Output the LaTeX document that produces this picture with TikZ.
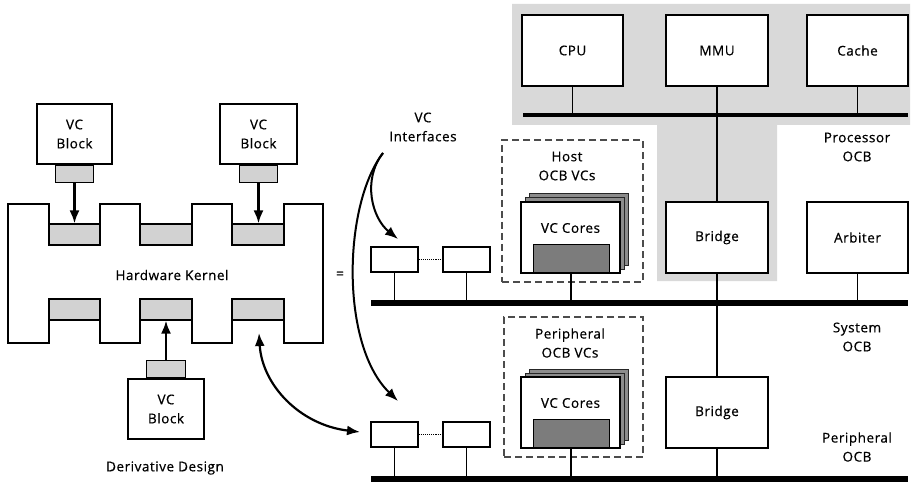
\documentclass[tikz,border=0pt]{standalone}
\usepackage{fontspec}
\setmainfont{Open Sans}[LetterSpace=4, RawFeature={embolden=0.6}]
\usetikzlibrary{arrows.meta}
\definecolor{procgray}{HTML}{D9D9D9}
\definecolor{slotgray}{HTML}{D2D2D2}
\definecolor{coregray}{HTML}{7C7C7C}
\begin{document}
\begin{tikzpicture}[x=1pt,y=-1pt,
  txt/.style={font=\fontsize{13.5}{19}\selectfont, align=center, inner sep=0pt},
  box/.style={draw, fill=white, line width=1.2pt, inner sep=0pt, txt},
  slot/.style={draw, fill=slotgray, line width=1.2pt, inner sep=0pt},
  core/.style={draw, fill=coregray, line width=1pt, inner sep=0pt},
  back/.style={draw=black!85, fill=black!45, line width=1pt, inner sep=0pt},
  dashbox/.style={draw=black!70, dashed, dash pattern=on 7pt off 4pt, line width=1.2pt, inner sep=0pt},
  bus/.style={line width=5.5pt},
  pbus/.style={line width=3.5pt},
  stem/.style={line width=1.1pt},
  arr/.style={line width=2.2pt, -{Latex[length=13pt,width=10pt]}},
  darr/.style={line width=2.2pt, {Latex[length=13pt,width=10pt]}-{Latex[length=13pt,width=10pt]}},
  carr/.style={line width=2pt, -{Latex[length=13pt,width=10pt]}}]
\useasboundingbox (0,0) rectangle (914,484);

% processor OCB shaded region
\fill[procgray] (512,4) -- (910,4) -- (910,125) -- (777,125) -- (777,281) -- (657,281) -- (657,125) -- (512,125) -- cycle;

% ---------- left: derivative design ----------
\draw[line width=1.2pt] (8,204) -- (49,204) -- (49,245) -- (100,245) -- (100,204) -- (140,204) -- (140,245) -- (192,245) -- (192,204) -- (232,204) -- (232,245) -- (284,245) -- (284,204) -- (323,204) -- (323,343) -- (284,343) -- (284,299) -- (232,299) -- (232,343) -- (192,343) -- (192,299) -- (140,299) -- (140,343) -- (100,343) -- (100,299) -- (49,299) -- (49,343) -- (8,343) -- cycle;
\node[slot, minimum width=51, minimum height=21] (t1) at (74.5,234.5) {};
\node[slot, minimum width=52, minimum height=21] (t2) at (166,234.5) {};
\node[slot, minimum width=52, minimum height=21] (t3) at (258,234.5) {};
\node[slot, minimum width=51, minimum height=21] (b1) at (74.5,309.5) {};
\node[slot, minimum width=52, minimum height=21] (b2) at (166,309.5) {};
\node[slot, minimum width=52, minimum height=21] (b3) at (258,309.5) {};
\node[txt] (hk) at (172,275) {Hardware Kernel};

\node[box, minimum width=75, minimum height=60] (vb1) at (74.5,134) {VC\\Block};
\node[slot, minimum width=38, minimum height=17, anchor=north] (vt1) at (vb1.south) {};
\node[box, minimum width=77, minimum height=60] (vb2) at (258.5,134) {VC\\Block};
\node[slot, minimum width=38, minimum height=17, anchor=north] (vt2) at (vb2.south) {};
\node[box, minimum width=76, minimum height=60] (vb3) at (166,409) {VC\\Block};
\node[slot, minimum width=39, minimum height=17, anchor=south] (vt3) at (vb3.north) {};

\draw[arr] (vt1.south) -- (t1.north);
\draw[arr] (vt2.south) -- (t2.north -| vt2.south);
\draw[arr] (vt3.north) -- (b2.south);
\node[txt] (dd) at (165,468) {Derivative Design};
\node[txt] (eq) at (340,275) {=};

% ---------- right: OCB architecture ----------
\node[box, minimum width=101, minimum height=71] (cpu) at (572.5,50.5) {CPU};
\node[box, minimum width=102, minimum height=71] (mmu) at (717,50.5) {MMU};
\node[box, minimum width=101, minimum height=71] (cache) at (857.5,50.5) {Cache};
\node[box, minimum width=102, minimum height=71] (br1) at (717,237.5) {Bridge};
\node[box, minimum width=101, minimum height=71] (arb) at (857.5,237.5) {Arbiter};
\node[box, minimum width=102, minimum height=71] (br2) at (717,412.5) {Bridge};

\coordinate (pb0) at (523,115); \coordinate (pb1) at (908,115);
\coordinate (sb0) at (371,303); \coordinate (sb1) at (908,303);
\coordinate (qb0) at (371,479); \coordinate (qb1) at (908,479);

\draw[stem] (cpu.south) -- (cpu.south |- pb0);
\draw[stem] (cache.south) -- (cache.south |- pb0);
\draw[stem] (mmu.south) -- (br1.north);
\draw[stem] (br1.south) -- (br2.north);
\draw[stem] (br2.south) -- (br2.south |- qb0);
\draw[stem] (arb.south) -- (arb.south |- sb0);

\node[txt] (plab) at (857,147) {Processor\\OCB};
\node[txt] (slab) at (857,337) {System\\OCB};
\node[txt] (qlab) at (857,447) {Peripheral\\OCB};

% host OCB VCs
\node[dashbox, minimum width=141, minimum height=142] (host) at (572.5,211) {};
\node[txt] (hostlab) at (567,166) {Host\\OCB VCs};
\node[back, minimum width=99, minimum height=71] (hc3) at (578.5,229.5) {};
\node[back, minimum width=99, minimum height=71] (hc2) at (574.5,233.5) {};
\node[box, minimum width=99, minimum height=71] (hc) at (570.5,237.5) {};
\node[txt] (hctext) at (570.5,228) {VC Cores};
\node[core, minimum width=76, minimum height=28, anchor=south] (hcore) at (571,273) {};

% peripheral OCB VCs
\node[dashbox, minimum width=139, minimum height=140] (per) at (573.5,387) {};
\node[txt] (perlab) at (570,343) {Peripheral\\OCB VCs};
\node[back, minimum width=99, minimum height=71] (pc3) at (578.5,404.5) {};
\node[back, minimum width=99, minimum height=71] (pc2) at (574.5,408.5) {};
\node[box, minimum width=99, minimum height=71] (pc) at (570.5,412.5) {};
\node[txt] (pctext) at (570.5,403) {VC Cores};
\node[core, minimum width=76, minimum height=28, anchor=south] (pcore) at (571,448) {};

\draw[stem] (hcore.south) -- (hcore.south |- sb0);
\draw[stem] (pcore.south) -- (pcore.south |- qb0);

% interface boxes
\node[box, minimum width=47, minimum height=25] (if1) at (394.5,259.5) {};
\node[box, minimum width=47, minimum height=25] (if2) at (466.5,259.5) {};
\node[box, minimum width=47, minimum height=25] (if3) at (394.5,434.5) {};
\node[box, minimum width=47, minimum height=25] (if4) at (466.5,434.5) {};
\draw[stem, densely dotted] (if1.east) -- (if2.west);
\draw[stem, densely dotted] (if3.east) -- (if4.west);
\draw[stem] (if1.south) -- (if1.south |- sb0);
\draw[stem] (if2.south) -- (if2.south |- sb0);
\draw[stem] (if3.south) -- (if3.south |- qb0);
\draw[stem] (if4.south) -- (if4.south |- qb0);

% buses
\draw[pbus] (pb0) -- (pb1);
\draw[bus] (sb0) -- (sb1);
\draw[bus] (qb0) -- (qb1);

% VC interfaces arrows
\node[txt] (vci) at (423,127) {VC\\Interfaces};
\coordinate (vcis) at (383,153);
\coordinate (e1) at (398,239);
\coordinate (e2) at (398,401);
\draw[carr] (vcis) .. controls (362,180) and (372,218) .. (e1);
\draw[carr] (vcis) .. controls (343,205) and (340,345) .. (e2);

% double arrow kernel <-> peripheral interface
\coordinate (d1) at (259,333);
\coordinate (d2) at (360,432);
\draw[darr] (d1) .. controls (262,385) and (300,425) .. (d2);
\end{tikzpicture}
\end{document}
